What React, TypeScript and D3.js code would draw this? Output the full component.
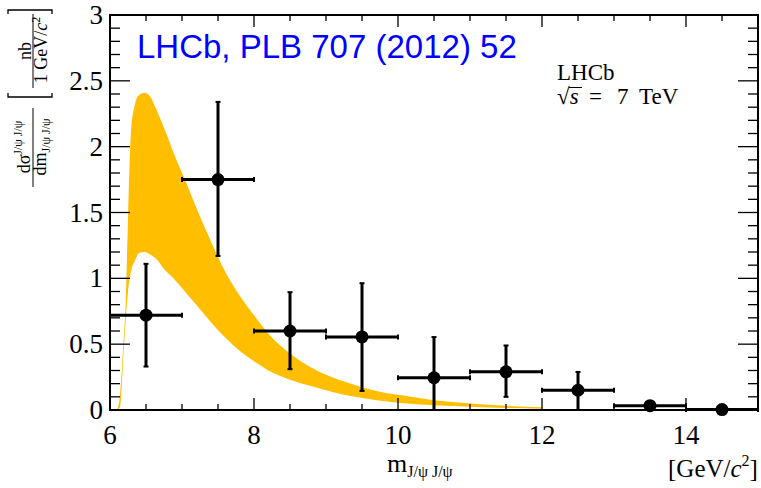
import React from 'react';
import * as d3 from 'd3';

// theory band (upper / lower edge)
const bandX = [6.1, 6.14, 6.18, 6.22, 6.25, 6.29, 6.35, 6.4, 6.48, 6.56, 6.63, 6.76, 6.9, 7.04, 7.18, 7.32, 7.46, 7.6, 7.8, 8.0, 8.2, 8.5, 8.8, 9.1, 9.4, 9.7, 10.0, 10.5, 11.0, 11.5, 12.0];
const bandHigh = [0, 0.12, 0.45, 0.85, 1.45, 2.1, 2.33, 2.39, 2.41, 2.38, 2.3, 2.13, 1.93, 1.75, 1.56, 1.38, 1.21, 1.05, 0.87, 0.72, 0.58, 0.43, 0.32, 0.245, 0.19, 0.145, 0.115, 0.075, 0.05, 0.032, 0.02];
const bandLow = [0, 0.02, 0.35, 0.7, 0.9, 1.05, 1.14, 1.19, 1.2, 1.18, 1.155, 1.065, 0.99, 0.9, 0.81, 0.72, 0.63, 0.55, 0.45, 0.37, 0.3, 0.23, 0.18, 0.135, 0.1, 0.074, 0.056, 0.037, 0.025, 0.015, 0.01];

// LHCb data points
const binLo = [6, 7, 8, 9, 10, 11, 12, 13, 14];
const binHi = [7, 8, 9, 10, 11, 12, 13, 14, 15];
const values = [0.72, 1.75, 0.6, 0.555, 0.245, 0.29, 0.15, 0.033, 0.003];
const errLo = [0.33, 1.17, 0.31, 0.145, 0, 0.1, 0, 0.02, 0];
const errHi = [1.11, 2.34, 0.895, 0.963, 0.554, 0.49, 0.289, 0.045, 0.01];

const xLabels = [6, 8, 10, 12, 14];
const yLabels = ['0', '0.5', '1', '1.5', '2', '2.5', '3'];

const W = 761;
const H = 488;
const serif = '"Liberation Serif", "Times New Roman", serif';

export default function App() {
  const x = d3.scaleLinear().domain([6, 15]).range([110, 758]);
  const y = d3.scaleLinear().domain([0, 3]).range([410, 15]);

  const band = d3
    .area<number>()
    .x((d) => x(d))
    .y0((_, i) => y(bandLow[i]))
    .y1((_, i) => y(bandHigh[i]))
    .curve(d3.curveMonotoneX);

  const xMinor = d3.range(6, 15.001, 0.5);
  const yMinor = d3.range(0, 3.0001, 0.1);
  const isMajorX = (v: number) => Math.abs(v / 2 - Math.round(v / 2)) < 1e-6;
  const isMajorY = (v: number) => Math.abs(v * 2 - Math.round(v * 2)) < 1e-6;

  const [x0, x1] = x.range();
  const [yb, yt] = y.range();

  return (
    <svg width={W} height={H} style={{ position: 'absolute', left: 0, top: 0, background: '#fff' }}>
      {/* band */}
      <path d={band(bandX) || ''} fill="#ffbf00" stroke="none" />

      {/* frame */}
      <rect x={x0} y={yt} width={x1 - x0} height={yb - yt} fill="none" stroke="#000" strokeWidth={2} />

      {/* x ticks */}
      {xMinor.map((v) => {
        const len = isMajorX(v) ? 12 : 6;
        return (
          <g key={'xt' + v} stroke="#000" strokeWidth={1.3}>
            <line x1={x(v)} x2={x(v)} y1={yb} y2={yb - len} />
            <line x1={x(v)} x2={x(v)} y1={yt} y2={yt + len} />
          </g>
        );
      })}
      {/* y ticks */}
      {yMinor.map((v) => {
        const len = isMajorY(v) ? 20 : 10;
        return (
          <g key={'yt' + v} stroke="#000" strokeWidth={1.3}>
            <line x1={x0} x2={x0 + len} y1={y(v)} y2={y(v)} />
            <line x1={x1} x2={x1 - len} y1={y(v)} y2={y(v)} />
          </g>
        );
      })}

      {/* tick labels */}
      {xLabels.map((v) => (
        <text key={'xl' + v} x={x(v)} y={444} fontFamily={serif} fontSize={27} textAnchor="middle">
          {v}
        </text>
      ))}
      {yLabels.map((s) => (
        <text key={'yl' + s} x={103} y={y(+s) + 9} fontFamily={serif} fontSize={27} textAnchor="end">
          {s}
        </text>
      ))}

      {/* data points */}
      {values.map((v, i) => {
        const cx = x((binLo[i] + binHi[i]) / 2);
        const cy = y(v);
        const cap = 2.5;
        return (
          <g key={'p' + i} stroke="#000" strokeWidth={3}>
            <line x1={x(binLo[i])} x2={x(binHi[i])} y1={cy} y2={cy} />
            <line x1={x(binLo[i])} x2={x(binLo[i])} y1={cy - cap} y2={cy + cap} strokeWidth={2} />
            <line x1={x(binHi[i])} x2={x(binHi[i])} y1={cy - cap} y2={cy + cap} strokeWidth={2} />
            <line x1={cx} x2={cx} y1={y(errLo[i])} y2={y(errHi[i])} />
            <line x1={cx - cap} x2={cx + cap} y1={y(errHi[i])} y2={y(errHi[i])} strokeWidth={2} />
            <line x1={cx - cap} x2={cx + cap} y1={y(errLo[i])} y2={y(errLo[i])} strokeWidth={2} />
            <circle cx={cx} cy={cy} r={6.5} fill="#000" stroke="none" />
          </g>
        );
      })}

      {/* title */}
      <text x={137} y={58} fill="#0000ff" fontFamily='"Liberation Sans", Arial, sans-serif' fontSize={33}>
        LHCb, PLB 707 (2012) 52
      </text>
      <text x={557} y={80} fontFamily={serif} fontSize={23}>LHCb</text>
      <text x={557} y={104} fontFamily={serif} fontSize={23}>
        √<tspan fontStyle="italic">s</tspan>
        <tspan x={589}>=</tspan>
        <tspan x={617}>7</tspan>
        <tspan x={639}>TeV</tspan>
      </text>
      <line x1={569} x2={582} y1={87.5} y2={87.5} stroke="#000" strokeWidth={1} />

      {/* x axis title */}
      <text x={387} y={472} fontFamily={serif} fontSize={26}>
        m<tspan fontSize={16} dy={5}>J/ψ J/ψ</tspan>
      </text>
      <text x={668} y={477} fontFamily={serif} fontSize={25}>
        [GeV/<tspan fontStyle="italic">c</tspan>
        <tspan fontSize={16} dy={-11}>2</tspan>
        <tspan dy={11}>]</tspan>
      </text>

      {/* y axis title */}
      <g fontFamily={serif}>
        <text transform="translate(30,147) rotate(-90)" fontSize={18} textAnchor="middle">
          dσ<tspan fontSize={12} dy={-8}>J/ψ J/ψ</tspan>
        </text>
        <line x1={33} x2={33} y1={108} y2={187} stroke="#000" strokeWidth={1} />
        <text transform="translate(46,147) rotate(-90)" fontSize={18} textAnchor="middle">
          dm<tspan fontSize={12} dy={4}>J/ψ J/ψ</tspan>
        </text>

        <text transform="translate(31,51) rotate(-90)" fontSize={18} textAnchor="middle">nb</text>
        <line x1={33} x2={33} y1={14} y2={88} stroke="#000" strokeWidth={1} />
        <text transform="translate(47,50) rotate(-90)" fontSize={18} textAnchor="middle">
          1 GeV/<tspan fontStyle="italic">c</tspan>
          <tspan fontSize={12} dy={-7}>2</tspan>
        </text>

        <path d="M8,93 V97 H52 V93" fill="none" stroke="#000" strokeWidth={1.3} />
        <path d="M8,14 V10 H52 V14" fill="none" stroke="#000" strokeWidth={1.3} />
      </g>
    </svg>
  );
}
